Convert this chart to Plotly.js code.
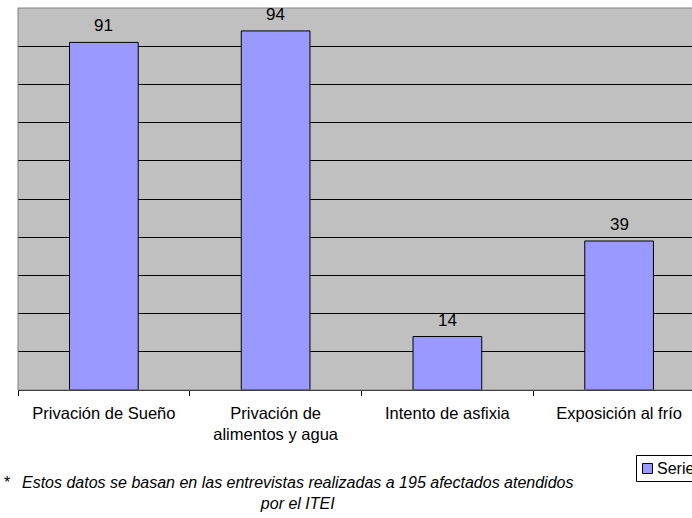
<!DOCTYPE html>
<html>
<head>
<meta charset="utf-8">
<script src="https://cdn.plot.ly/plotly-3.0.1.min.js"></script>
<style>
html, body { margin: 0; padding: 0; overflow: hidden; background: #fff; width: 692px; height: 518px; }
#chart { width: 760px; height: 518px; }
</style>
</head>
<body>
<div id="chart"></div>
<script>
const categories = ["Privación de Sueño", "Privación de<br>alimentos y agua", "Intento de asfixia", "Exposición al frío"];
const values = [91, 94, 14, 39];
const seriesName = "Series1";
const footnoteMark = "*";
const footnoteText = "Estos datos se basan en las entrevistas realizadas a 195 afectados atendidos<br>por el ITEI";

const FONT = "Liberation Sans, Arial, sans-serif";
const BAR_COLOR = "#9999FF";

// plot area geometry (pixels)
const L = 18, T = 8, W = 687, H = 382;
const px = (x) => (x - L) / W;          // pixel x -> paper x
const py = (y) => (T + H - y) / H;      // pixel y -> paper y

const trace = {
  type: "bar",
  x: categories,
  y: values,
  name: seriesName,
  width: 0.4,
  marker: { color: BAR_COLOR, line: { color: "#000000", width: 1 } },
  hoverinfo: "none",
  showlegend: false
};

const valueLabels = categories.map((c, i) => ({
  x: c, y: values[i], xref: "x", yref: "y",
  text: String(values[i]), showarrow: false,
  yanchor: "bottom", yshift: 5,
  font: { family: FONT, size: 17, color: "#000" }
}));

const layout = {
  width: 760, height: 518,
  margin: { l: L, r: 760 - L - W, t: T, b: 518 - T - H },
  paper_bgcolor: "#ffffff",
  plot_bgcolor: "#C0C0C0",
  font: { family: FONT, size: 16, color: "#000" },
  xaxis: {
    type: "category",
    showline: true, linecolor: "#000", linewidth: 1,
    ticks: "outside", tickson: "boundaries", ticklen: 5, tickcolor: "#000",
    ticklabelstandoff: 8,
    tickfont: { family: FONT, size: 16.5, color: "#000" },
    showgrid: false, zeroline: false,
    fixedrange: true
  },
  yaxis: {
    range: [0, 100], dtick: 10,
    showticklabels: false, ticks: "",
    showgrid: true, gridcolor: "#000", gridwidth: 1,
    zeroline: false, showline: false, fixedrange: true
  },
  showlegend: false,
  shapes: [
    { type: "rect", xref: "paper", yref: "paper", x0: 0, x1: 1, y0: 0, y1: 1,
      line: { color: "#808080", width: 1 }, fillcolor: "rgba(0,0,0,0)", layer: "above" },
    // legend box
    { type: "rect", xref: "paper", yref: "paper", x0: px(636.5), x1: px(740), y0: py(455.5), y1: py(481.5),
      line: { color: "#000", width: 1 }, fillcolor: "#fff" },
    // legend swatch
    { type: "rect", xref: "paper", yref: "paper", x0: px(642.5), x1: px(652.5), y0: py(463.5), y1: py(473.5),
      line: { color: "#000", width: 1 }, fillcolor: BAR_COLOR }
  ],
  annotations: valueLabels.concat([
    { xref: "paper", yref: "paper", x: px(655), y: py(468.5), xanchor: "left", yanchor: "middle",
      text: seriesName, showarrow: false, font: { family: FONT, size: 16, color: "#000" } },
    { xref: "paper", yref: "paper", x: px(2), y: py(472), xanchor: "left", yanchor: "top",
      text: footnoteMark, showarrow: false, font: { family: FONT, size: 16, color: "#000" } },
    { xref: "paper", yref: "paper", x: px(297), y: py(472), xanchor: "center", yanchor: "top",
      text: "<i>" + footnoteText + "</i>", align: "center", showarrow: false,
      font: { family: FONT, size: 16, color: "#000" } }
  ])
};

Plotly.newPlot("chart", [trace], layout, { displayModeBar: false, staticPlot: true });
</script>
</body>
</html>
